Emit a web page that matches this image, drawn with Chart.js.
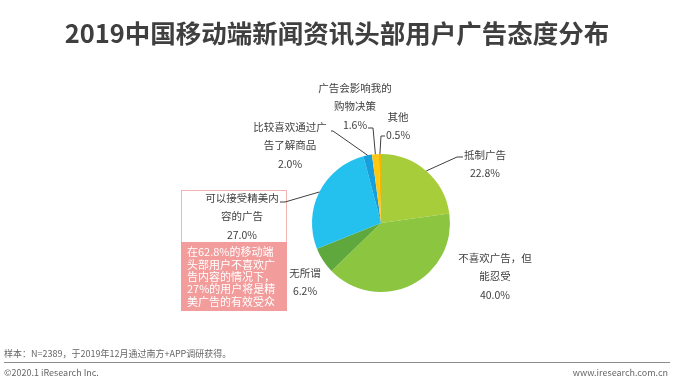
<!DOCTYPE html>
<html>
<head>
<meta charset="utf-8">
<script src="https://cdn.jsdelivr.net/npm/chart.js@4.4.1/dist/chart.umd.min.js"></script>
<style>
  html, body { margin: 0; padding: 0; background: #ffffff; }
  #wrap { position: relative; width: 674px; height: 382px; overflow: hidden; background: #fff;
          font-family: "Noto Sans CJK SC", "Noto Sans", sans-serif; }
  #title { position: absolute; left: 0; top: 14px; width: 674px; text-align: center;
           font-size: 25.5px; font-weight: bold; color: #3f3f3f; line-height: 36px; }
  #chart { position: absolute; left: 0; top: 0; }
  #note { position: absolute; left: 4px; top: 346px; font-size: 9px; color: #666; line-height: 16px; }
  #rule { position: absolute; left: 4px; top: 362px; width: 666px; height: 1px; background: #8c8c8c; }
  #copy { position: absolute; left: 4px; top: 365px; font-size: 9px; color: #666; line-height: 16px; }
  #site { position: absolute; right: 6px; top: 365px; font-size: 9px; color: #666; line-height: 16px; }
</style>
</head>
<body>
<div id="wrap">
  <canvas id="chart" width="674" height="382"></canvas>
  <div id="title">2019中国移动端新闻资讯头部用户广告态度分布</div>
  <div id="note">样本：N=2389，于2019年12月通过南方+APP调研获得。</div>
  <div id="rule"></div>
  <div id="copy">©2020.1 iResearch Inc.</div>
  <div id="site">www.iresearch.com.cn</div>
</div>
<script>
// ---- data ----
const categories = [
  ["抵制广告"],
  ["不喜欢广告，但", "能忍受"],
  ["无所谓"],
  ["可以接受精美内", "容的广告"],
  ["比较喜欢通过广", "告了解商品"],
  ["广告会影响我的", "购物决策"],
  ["其他"]
];
const shares = [22.8, 40.0, 6.2, 27.0, 2.0, 1.6, 0.5];
const sliceColors = ["#a8cd3a", "#8cc540", "#5fa83e", "#24c0ee", "#159fdb", "#fdc813", "#f5b400"];
const calloutLines = ["在62.8%的移动端", "头部用户不喜欢广", "告内容的情况下，", "27%的用户将是精", "美广告的有效受众"];

// ---- label layout (offsets from pie centre, px) ----
// text: centre x / first-line y of the label block; path: leader-line bend points (null = no leader)
const labelLayout = [
  { tx: 104, ty: -68, path: [[76, -66], [82, -66]] },
  { tx: 114, ty: 35, path: null },
  { tx: -76, ty: 50, path: null },
  { tx: -139, ty: -25, path: [[-96, -21], [-101, -21]] },
  { tx: -91, ty: -96, path: [[-48, -92], [-50, -92]] },
  { tx: -26, ty: -135, path: [[-8, -95], [-13, -95]] },
  { tx: 17, ty: -106, path: [[0, -87], [4, -87]] }
];

const pieLabels = {
  id: 'pieLabels',
  afterDraw(chart) {
    const ctx = chart.ctx;
    const meta = chart.getDatasetMeta(0);
    const lh = 18.5;
    ctx.save();
    ctx.font = '10.5px "Noto Sans CJK SC", "Noto Sans", sans-serif';
    ctx.textAlign = 'center';
    ctx.textBaseline = 'middle';
    meta.data.forEach((arc, i) => {
      const cx = arc.x, cy = arc.y;
      const mid = (arc.startAngle + arc.endAngle) / 2;
      const r = arc.outerRadius;
      const lay = labelLayout[i];
      const lines = categories[i].concat([shares[i].toFixed(1) + '%']);
      // callout box for 可以接受
      if (i === 3) {
        const bx = cx - 200, by = cy - 33, bw = 106;
        ctx.fillStyle = '#ffffff';
        ctx.strokeStyle = '#f2b3b3';
        ctx.lineWidth = 1;
        ctx.fillRect(bx, by, bw, 52);
        ctx.strokeRect(bx + 0.5, by + 0.5, bw - 1, 52);
        ctx.fillStyle = '#f29c9c';
        ctx.fillRect(bx, by + 52, bw, 69);
        ctx.save();
        ctx.fillStyle = '#ffffff';
        ctx.textAlign = 'left';
        ctx.font = '11px "Noto Sans CJK SC", "Noto Sans", sans-serif';
        calloutLines.forEach((t, k) => ctx.fillText(t, bx + 6, by + 62 + k * 12.4));
        ctx.restore();
      }
      if (lay.path) {
        ctx.strokeStyle = '#404040';
        ctx.lineWidth = 1;
        ctx.beginPath();
        ctx.moveTo(cx + Math.cos(mid) * r, cy + Math.sin(mid) * r);
        lay.path.forEach(p => ctx.lineTo(cx + p[0], cy + p[1]));
        ctx.stroke();
      }
      ctx.fillStyle = '#404040';
      lines.forEach((t, k) => ctx.fillText(t, cx + lay.tx, cy + lay.ty + k * lh));
    });
    ctx.restore();
  }
};

new Chart(document.getElementById('chart'), {
  type: 'pie',
  data: {
    labels: categories.map(c => c.join('')),
    datasets: [{
      data: shares,
      backgroundColor: sliceColors,
      borderColor: '#ffffff',
      borderWidth: 0,
      hoverOffset: 0
    }]
  },
  options: {
    responsive: false,
    animation: false,
    events: [],
    layout: { padding: { left: 312, right: 224, top: 154, bottom: 90 } },
    plugins: { legend: { display: false }, tooltip: { enabled: false }, title: { display: false } }
  },
  plugins: [pieLabels]
});
</script>
</body>
</html>
